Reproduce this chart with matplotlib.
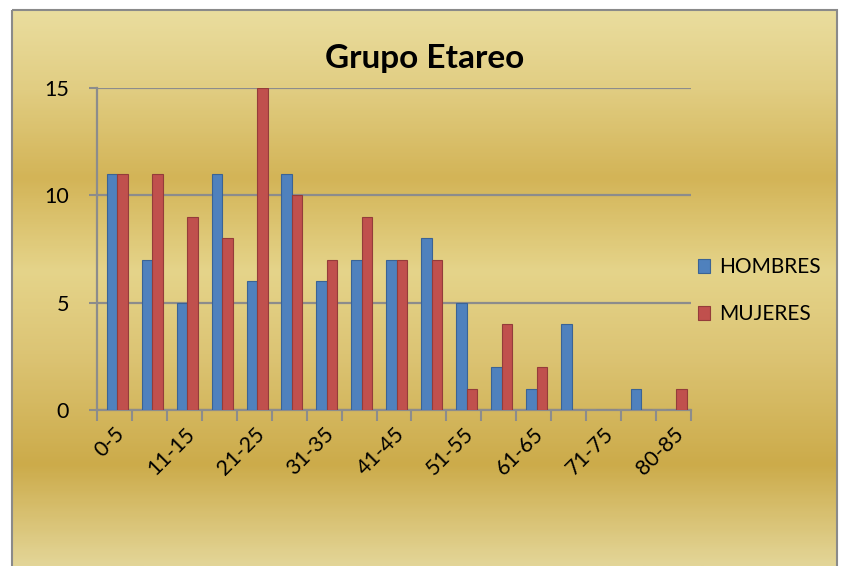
import numpy as np
import matplotlib.pyplot as plt
from matplotlib.colors import LinearSegmentedColormap
from matplotlib.patches import Rectangle

# Data
categorias = ['0-5', '6-10', '11-15', '16-20', '21-25', '26-30', '31-35', '36-40',
              '41-45', '46-50', '51-55', '56-60', '61-65', '66-70', '71-75', '76-80', '80-85']
hombres = [11, 7, 5, 11, 6, 11, 6, 7, 7, 8, 5, 2, 1, 4, 0, 1, 0]
mujeres = [11, 11, 9, 8, 15, 10, 7, 9, 7, 7, 1, 4, 2, 0, 0, 0, 1]

W, H = 845, 566
fig = plt.figure(figsize=(W / 100, H / 100), dpi=100)
fig.patch.set_facecolor('white')

# gold gradient background of the chart area
bg = fig.add_axes([0, 0, 1, 1], zorder=-5)
bg.set_xlim(0, W)
bg.set_ylim(H, 0)
bg.axis('off')
stops = [(0.0, '#eadd9e'), (0.14, '#e1cd82'), (0.30, '#d3b457'), (0.47, '#e5d48a'),
         (0.62, '#dcc474'), (0.82, '#ccab4a'), (1.0, '#e3d597')]
cmap = LinearSegmentedColormap.from_list('gold', stops)
grad = np.linspace(0, 1, 300).reshape(-1, 1)
bg.imshow(grad, cmap=cmap, aspect='auto', extent=(12, 837, H, 10), interpolation='bicubic')
bg.add_patch(Rectangle((12, 10), 825, H, fill=False, edgecolor='#8a8a8a', linewidth=1.5))

ax = fig.add_axes([97 / W, 1 - 410 / H, (691 - 97) / W, (410 - 88) / H])
ax.patch.set_alpha(0)

x = np.arange(len(categorias))
w = 0.3
ax.bar(x - w / 2 + 0.08, hombres, w, color='#4f81bd', edgecolor='#3a6395', linewidth=0.8,
       label='HOMBRES', zorder=3)
ax.bar(x + w / 2 + 0.08, mujeres, w, color='#c0504d', edgecolor='#943c3a', linewidth=0.8,
       label='MUJERES', zorder=3)

ax.set_xlim(-0.5, len(categorias) - 0.5)
ax.set_ylim(0, 15)
ax.set_yticks([0, 5, 10, 15])
ax.yaxis.grid(True, color='#8c8c8c', linewidth=1.6)
ax.set_axisbelow(True)

ax.set_xticks(x[::2])
ax.set_xticklabels(categorias[::2], rotation=45, ha='right', rotation_mode='anchor')
ax.set_xticks(np.arange(-0.5, len(categorias), 1), minor=True)
ax.tick_params(axis='x', which='major', length=0, pad=10, labelsize=15.5)
ax.tick_params(axis='x', which='minor', length=8, width=1.5, color='#8c8c8c', direction='out')
ax.tick_params(axis='y', length=6, width=1.5, color='#8c8c8c', pad=14, labelsize=15.5)

for s in ['top', 'right']:
    ax.spines[s].set_visible(False)
for s in ['left', 'bottom']:
    ax.spines[s].set_color('#8c8c8c')
    ax.spines[s].set_linewidth(1.6)

for lbl in ax.get_xticklabels() + ax.get_yticklabels():
    lbl.set_fontfamily('Lato')

fig.text(425 / W, 1 - 58 / H, 'Grupo Etareo', ha='center', va='center',
         fontsize=24, fontweight='bold', family='Lato')

leg = ax.legend(loc='center left', bbox_to_anchor=(0.98, 0.37), frameon=False,
                handlelength=0.6, handleheight=0.6, handletextpad=0.4,
                labelspacing=1.3, prop={'family': 'Lato', 'size': 15})

fig.savefig('out.png', dpi=100)
